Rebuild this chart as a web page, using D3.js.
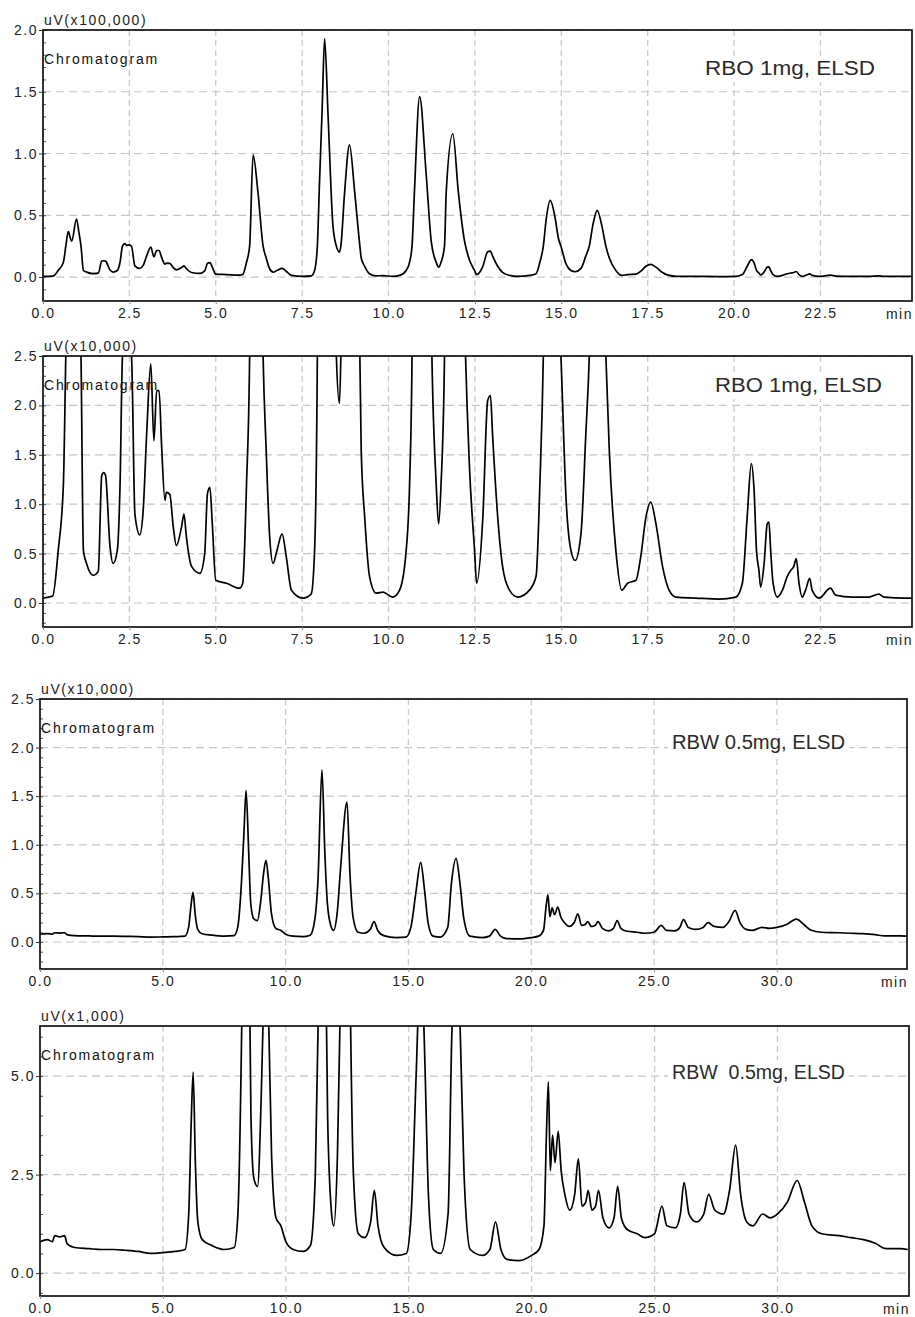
<!DOCTYPE html>
<html>
<head>
<meta charset="utf-8">
<script src="https://cdnjs.cloudflare.com/ajax/libs/d3/7.8.5/d3.min.js"></script>
<style>
body { margin: 0; background: #fff; }
svg text { font-family: "Liberation Sans", Arial, sans-serif; }
</style>
</head>
<body>
<div id="chart"></div>
<script>
// RBO 1mg, ELSD trace (min, uV)
var rboTime = [0.00,0.28,0.44,0.59,0.66,0.73,0.83,0.97,1.04,1.10,1.17,1.26,1.45,1.60,1.70,1.76,1.81,1.94,2.03,2.15,
	2.23,2.30,2.37,2.42,2.47,2.56,2.66,2.80,2.90,3.00,3.12,3.21,3.29,3.36,3.43,3.53,3.57,3.67,3.77,3.86,
	4.01,4.08,4.15,4.30,4.54,4.68,4.76,4.83,4.90,5.00,5.31,5.69,5.78,5.89,5.98,6.08,6.22,6.37,6.46,6.56,
	6.66,6.77,6.92,7.04,7.19,7.52,7.76,7.86,7.94,8.00,8.08,8.15,8.25,8.39,8.49,8.58,8.62,8.73,8.87,9.02,
	9.16,9.21,9.31,9.45,9.64,9.84,10.12,10.32,10.51,10.61,10.68,10.75,10.90,11.09,11.24,11.38,11.45,11.52,11.62,11.67,
	11.86,12.02,12.20,12.34,12.49,12.55,12.73,12.87,12.95,13.01,13.16,13.30,13.50,13.74,14.08,14.27,14.38,14.48,14.56,14.68,
	14.82,14.92,14.99,15.14,15.28,15.40,15.57,15.71,15.81,15.92,16.04,16.17,16.29,16.39,16.58,16.75,16.92,17.16,17.30,17.45,
	17.59,17.74,17.93,18.12,18.32,18.89,19.57,20.05,20.24,20.38,20.50,20.58,20.65,20.72,20.77,20.87,20.96,21.01,21.06,21.13,
	21.25,21.40,21.54,21.64,21.73,21.80,21.88,21.97,22.07,22.19,22.26,22.46,22.79,22.94,23.42,23.90,24.19,24.34,24.96,25.15];
var rboSignal = [500,700,5300,12000,25000,36700,29000,47000,36000,25000,5300,4000,2800,3200,12900,13200,12900,5700,4000,5300,
	12000,25000,27000,25500,26000,25000,9000,6900,9400,17100,24200,16400,21500,21500,16100,10400,11200,11000,7700,5800,
	7700,9000,6700,3700,3000,5000,11100,11700,8000,2300,2000,1500,2000,12000,25000,99000,69000,25000,15400,6700,
	4000,5300,7000,4700,1300,500,900,5300,25000,74500,137000,193000,131000,42000,25000,20200,25000,69000,107000,69000,
	28000,15400,8700,2700,1000,1100,600,1300,5300,12100,25000,69000,146000,83000,28000,12000,8000,12000,25000,69000,
	116000,69000,29000,14000,5300,2000,8700,20500,21000,17100,8700,3700,1300,600,1300,2700,12000,25000,46000,62000,
	48000,31000,25000,10400,5300,4300,7000,17100,25000,43000,54000,42000,25000,15400,5300,1300,2000,2300,4700,8700,
	10200,8000,3700,1300,600,500,400,600,2000,8700,14100,11400,5300,3300,1600,4000,8000,8200,5300,2000,
	600,1300,2700,3300,3700,4500,2000,600,1300,2500,1300,500,1500,800,600,600,900,600,500,500];

// RBW 0.5mg, ELSD trace (min, uV)
var rbwTime = [0.0,0.3,0.5,0.6,0.8,1.0,1.1,1.4,2.0,2.5,3.0,3.5,4.0,4.5,5.0,5.5,5.9,6.05,6.15,6.23,
	6.32,6.42,6.6,7.0,7.5,7.9,8.05,8.2,8.3,8.39,8.5,8.58,8.7,8.85,9.0,9.1,9.2,9.3,9.42,9.6,
	9.8,10.0,10.3,10.7,11.0,11.2,11.32,11.48,11.6,11.7,11.85,11.95,12.1,12.25,12.5,12.62,12.75,12.95,13.2,13.45,
	13.6,13.75,14.0,14.5,14.9,15.1,15.3,15.5,15.65,15.8,16.0,16.3,16.6,16.75,16.94,17.1,17.25,17.5,18.0,18.3,
	18.53,18.75,19.0,19.5,20.0,20.3,20.5,20.6,20.68,20.76,20.85,20.95,21.08,21.2,21.35,21.55,21.75,21.9,22.05,22.2,
	22.3,22.45,22.6,22.72,22.9,23.15,23.35,23.5,23.65,23.9,24.3,24.6,25.0,25.3,25.5,25.85,26.05,26.2,26.4,26.7,
	27.0,27.2,27.45,27.8,28.05,28.3,28.5,28.75,29.0,29.4,29.7,30.0,30.4,30.8,31.1,31.4,31.8,32.5,33.0,33.5,
	34.0,34.4,35.0,35.3];
var rbwSignal = [800,850,800,950,920,950,750,650,620,600,600,580,550,500,520,550,600,1500,3800,5100,
	2800,1300,850,700,600,650,1500,6000,11000,15600,9000,4000,2400,2200,4500,7000,8400,6500,3000,1400,
	1200,800,600,550,700,2500,6500,17700,9000,4000,1600,1200,3000,8000,14400,7000,2500,1000,900,1300,
	2100,1200,650,450,500,1500,5000,8200,5500,2000,600,500,1500,6000,8600,6000,2500,600,450,600,
	1300,600,350,320,450,600,1200,3500,4850,2600,3500,2800,3600,2600,2000,1600,2000,2900,1700,1800,
	2100,1600,1700,2100,1400,1150,1400,2200,1400,1100,1000,900,1000,1700,1200,1150,1500,2300,1500,1300,
	1500,2000,1600,1500,2100,3250,2000,1300,1200,1500,1400,1500,1800,2350,1800,1200,1000,950,900,850,
	750,620,620,600];

var rboTicksX = [0, 2.5, 5, 7.5, 10, 12.5, 15, 17.5, 20, 22.5];
var rbwTicksX = [0, 5, 10, 15, 20, 25, 30];
var ticksY100k = [0, 0.5, 1, 1.5, 2];
var ticksY10k = [0, 0.5, 1, 1.5, 2, 2.5];
var ticksY1k = [0, 2.5, 5];
var unitLabels = ["uV(x100,000)", "uV(x10,000)", "uV(x10,000)", "uV(x1,000)"];
var unitDivisors = [100000, 10000, 10000, 1000];
var sampleLabels = ["RBO 1mg, ELSD", "RBO 1mg, ELSD", "RBW 0.5mg, ELSD", "RBW  0.5mg, ELSD"];

var width = 915, height = 1317;
var fontFamily = '"Liberation Sans", Arial, sans-serif';

var svg = d3.select("#chart").append("svg")
	.attr("width", width)
	.attr("height", height);

var panels = [
	{time: rboTime, signal: rboSignal, ticksX: rboTicksX, ticksY: ticksY100k, xMax: 25.15, yMin: -0.194, yMax: 2.0, minor: 0.1,
		left: 43, top: 30, right: 912, bottom: 301, labelX: 705, labelW: 170, labelY: 75},
	{time: rboTime, signal: rboSignal, ticksX: rboTicksX, ticksY: ticksY10k, xMax: 25.15, yMin: -0.243, yMax: 2.5, minor: 0.1,
		left: 43, top: 356, right: 912, bottom: 627, labelX: 715, labelW: 167, labelY: 392},
	{time: rbwTime, signal: rbwSignal, ticksX: rbwTicksX, ticksY: ticksY10k, xMax: 35.3, yMin: -0.278, yMax: 2.5, minor: 0.1,
		left: 40, top: 699, right: 907, bottom: 969, labelX: 672, labelW: 173, labelY: 749},
	{time: rbwTime, signal: rbwSignal, ticksX: rbwTicksX, ticksY: ticksY1k, xMax: 35.35, yMin: -0.58, yMax: 6.27, minor: 0.5,
		left: 40, top: 1026, right: 909, bottom: 1296, labelX: 672, labelW: 173, labelY: 1079}
];

function drawPanel(p, i) {
	var x = d3.scaleLinear().domain([0, p.xMax]).range([p.left, p.right]);
	var y = d3.scaleLinear().domain([p.yMin, p.yMax]).range([p.bottom, p.top]);
	var g = svg.append("g");

	g.append("clipPath").attr("id", "clip" + i)
		.append("rect")
		.attr("x", p.left).attr("y", p.top)
		.attr("width", p.right - p.left).attr("height", p.bottom - p.top);

	// dashed grid
	g.append("g").selectAll("line")
		.data(p.ticksX.filter(function(d) { return d > 0; }))
		.enter().append("line")
			.attr("x1", function(d) { return x(d); })
			.attr("x2", function(d) { return x(d); })
			.attr("y1", p.top)
			.attr("y2", p.bottom)
			.attr("stroke", "#cbcbcb")
			.attr("stroke-width", 1.3)
			.attr("stroke-dasharray", "6,4");
	g.append("g").selectAll("line")
		.data(p.ticksY)
		.enter().append("line")
			.attr("x1", p.left)
			.attr("x2", p.right)
			.attr("y1", function(d) { return y(d); })
			.attr("y2", function(d) { return y(d); })
			.attr("stroke", "#c6c6c6")
			.attr("stroke-width", 1.2)
			.attr("stroke-dasharray", "8,5");

	// sample label with a white box
	g.append("rect")
		.attr("x", p.labelX - 4).attr("y", p.labelY - 19)
		.attr("width", p.labelW + 8).attr("height", 26)
		.attr("fill", "#fff");
	g.append("text")
		.text(sampleLabels[i])
		.attr("x", p.labelX)
		.attr("y", p.labelY)
		.attr("textLength", p.labelW)
		.attr("lengthAdjust", "spacingAndGlyphs")
		.attr("font-size", 20)
		.attr("fill", "#2a2a2a")
		.style("white-space", "pre");

	// trace
	var points = p.time.map(function(t, k) { return [t, p.signal[k] / unitDivisors[i]]; });
	var line = d3.line()
		.x(function(d) { return x(d[0]); })
		.y(function(d) { return y(d[1]); })
		.curve(d3.curveMonotoneX);
	g.append("path")
		.datum(points)
		.attr("clip-path", "url(#clip" + i + ")")
		.attr("d", line)
		.attr("fill", "none")
		.attr("stroke", "#000")
		.attr("stroke-width", 1.7)
		.attr("stroke-linejoin", "round");

	// minor ticks on the left axis
	var minorTicks = d3.range(Math.ceil(p.yMin / p.minor) * p.minor, p.yMax + 1e-9, p.minor);
	g.append("g")
		.attr("transform", "translate(" + p.left + ",0)")
		.call(d3.axisLeft(y).tickValues(minorTicks).tickSize(-3).tickFormat(""))
		.call(function(a) { a.select(".domain").remove(); a.selectAll("line").attr("stroke", "#555"); });

	// frame
	g.append("rect")
		.attr("x", p.left).attr("y", p.top)
		.attr("width", p.right - p.left).attr("height", p.bottom - p.top)
		.attr("fill", "none")
		.attr("stroke", "#111")
		.attr("stroke-width", 1.7);

	// axes
	var yAxis = g.append("g")
		.attr("transform", "translate(" + p.left + ",0)")
		.call(d3.axisLeft(y).tickValues(p.ticksY).tickFormat(d3.format(".1f")).tickSize(4).tickPadding(1));
	yAxis.select(".domain").remove();
	yAxis.selectAll("line").attr("stroke", "#333");
	yAxis.selectAll("text")
		.attr("font-size", 14)
		.attr("font-family", fontFamily)
		.attr("fill", "#222")
		.style("letter-spacing", "1.5px");

	var xAxis = g.append("g")
		.attr("transform", "translate(0," + p.bottom + ")")
		.call(d3.axisBottom(x).tickValues(p.ticksX).tickFormat(d3.format(".1f")).tickSize(3).tickPadding(4));
	xAxis.select(".domain").remove();
	xAxis.selectAll("line").attr("stroke", "#888");
	xAxis.selectAll("text")
		.attr("font-size", 14)
		.attr("font-family", fontFamily)
		.attr("fill", "#222")
		.style("letter-spacing", "1.5px");

	g.append("text")
		.text("min")
		.attr("x", p.right + 1)
		.attr("y", p.bottom + 18)
		.attr("text-anchor", "end")
		.attr("font-size", 14)
		.attr("fill", "#222")
		.style("letter-spacing", "1.5px");

	g.append("text")
		.text(unitLabels[i])
		.attr("x", p.left + 1)
		.attr("y", p.top - 5)
		.attr("font-size", 14)
		.attr("fill", "#222")
		.style("letter-spacing", "1.6px");

	g.append("text")
		.text("Chromatogram")
		.attr("x", p.left + 1)
		.attr("y", p.top + 34)
		.attr("font-size", 14)
		.attr("fill", "#111")
		.style("letter-spacing", "1.8px");
}

panels.forEach(drawPanel);
</script>
</body>
</html>
